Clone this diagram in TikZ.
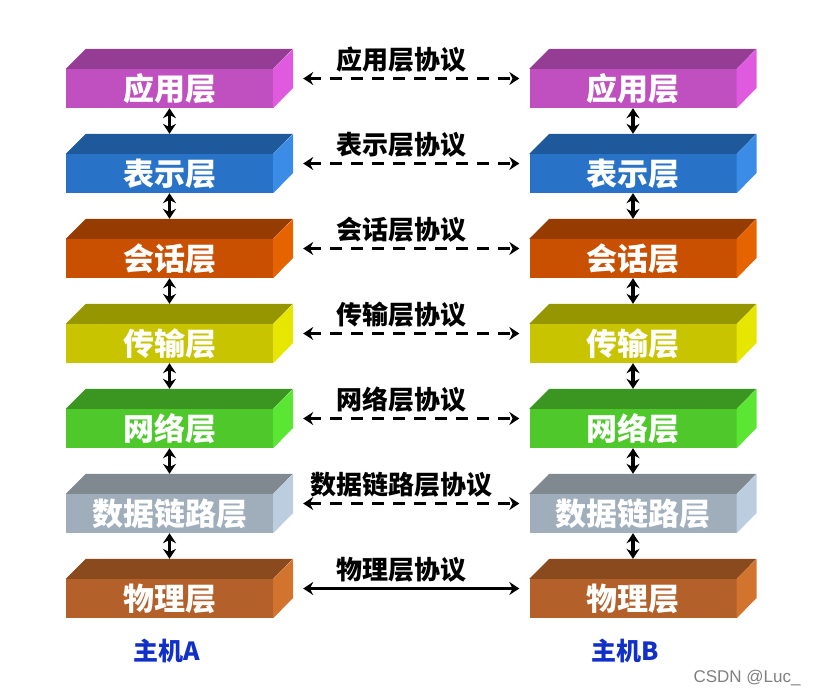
\documentclass[tikz,border=0pt]{standalone}
\usepackage{fontspec}
\newfontfamily\cjk{Noto Sans CJK SC}
\setsansfont{Liberation Sans}
\usetikzlibrary{positioning,arrows.meta}
% front / top / side colours of each layer
\definecolor{Fapp}{HTML}{C050C0}\definecolor{Tapp}{HTML}{953C95}\definecolor{Sapp}{HTML}{E05AE0}
\definecolor{Fpre}{HTML}{2873C8}\definecolor{Tpre}{HTML}{1E5A9B}\definecolor{Spre}{HTML}{3B8CE6}
\definecolor{Fses}{HTML}{C85000}\definecolor{Tses}{HTML}{963C00}\definecolor{Sses}{HTML}{E66400}
\definecolor{Ftra}{HTML}{C8C400}\definecolor{Ttra}{HTML}{969600}\definecolor{Stra}{HTML}{E6E600}
\definecolor{Fnet}{HTML}{4EC82A}\definecolor{Tnet}{HTML}{3A9620}\definecolor{Snet}{HTML}{5AE632}
\definecolor{Fdll}{HTML}{A0AEBB}\definecolor{Tdll}{HTML}{808890}\definecolor{Sdll}{HTML}{BCCDE0}
\definecolor{Fphy}{HTML}{B4602A}\definecolor{Tphy}{HTML}{8A4A1E}\definecolor{Sphy}{HTML}{D2742E}
\definecolor{hostblue}{HTML}{1030C8}

\begin{document}
\begin{tikzpicture}[x=1pt,y=1pt,>=Stealth,
  layer/.style={minimum width=207pt,minimum height=39pt,inner sep=0pt,text=white,
    font=\cjk\bfseries\fontsize{31}{31}\selectfont},
  proto/.style={font=\cjk\bfseries\fontsize{26}{26}\selectfont,inner sep=1pt},
  link/.style={line width=3.2pt,{Stealth[length=10pt,width=13pt]}-{Stealth[length=10pt,width=13pt]}},
  dsh/.style={dash pattern=on 12pt off 9pt},
  host/.style={text=hostblue,font=\cjk\bfseries\fontsize{25}{25}\selectfont}]
  \useasboundingbox (0,0) rectangle (819,-696);
  \foreach \i/\c/\name/\pname/\ls in {1/app/应用层/应用层协议/dsh,2/pre/表示层/表示层协议/dsh,
      3/ses/会话层/会话层协议/dsh,4/tra/传输层/传输层协议/dsh,5/net/网络层/网络层协议/dsh,
      6/dll/数据链路层/数据链路层协议/dsh,7/phy/物理层/物理层协议/solid} {
    \pgfmathsetmacro\yy{-88.5-85*(\i-1)}
    \node[layer,fill=F\c] (L\i) at (169.5,\yy) {\name};
    \node[layer,fill=F\c] (R\i) at (633,\yy) {\name};
    \foreach \s in {L,R} {
      \fill[T\c] (\s\i.north west) -- ++(20,20) -- ++(207,0) -- (\s\i.north east) -- cycle;
      \fill[S\c] (\s\i.north east) -- ++(20,20) -- ++(0,-39) -- (\s\i.south east) -- cycle;
    }
    \draw[link,\ls] ([shift={(30,10)}]L\i.east) --
      node[proto,above=4pt,xshift=-10pt] (P\i) {\pname} ([shift={(-10,10)}]R\i.west);
  }
  \foreach \i [evaluate=\i as \j using int(\i+1)] in {1,...,6} {
    \draw[link] (L\i.south) -- ([yshift=20]L\j.north);
    \draw[link] (R\i.south) -- ([yshift=20]R\j.north);
  }
  \node[host] (hA) at (167,-651) {主机A};
  \node[host] (hB) at (625,-651) {主机B};
  \node[font=\sffamily\fontsize{17}{17}\selectfont,text=gray] (wm) at (747,-678) {CSDN @Luc\_};
\end{tikzpicture}
\end{document}
